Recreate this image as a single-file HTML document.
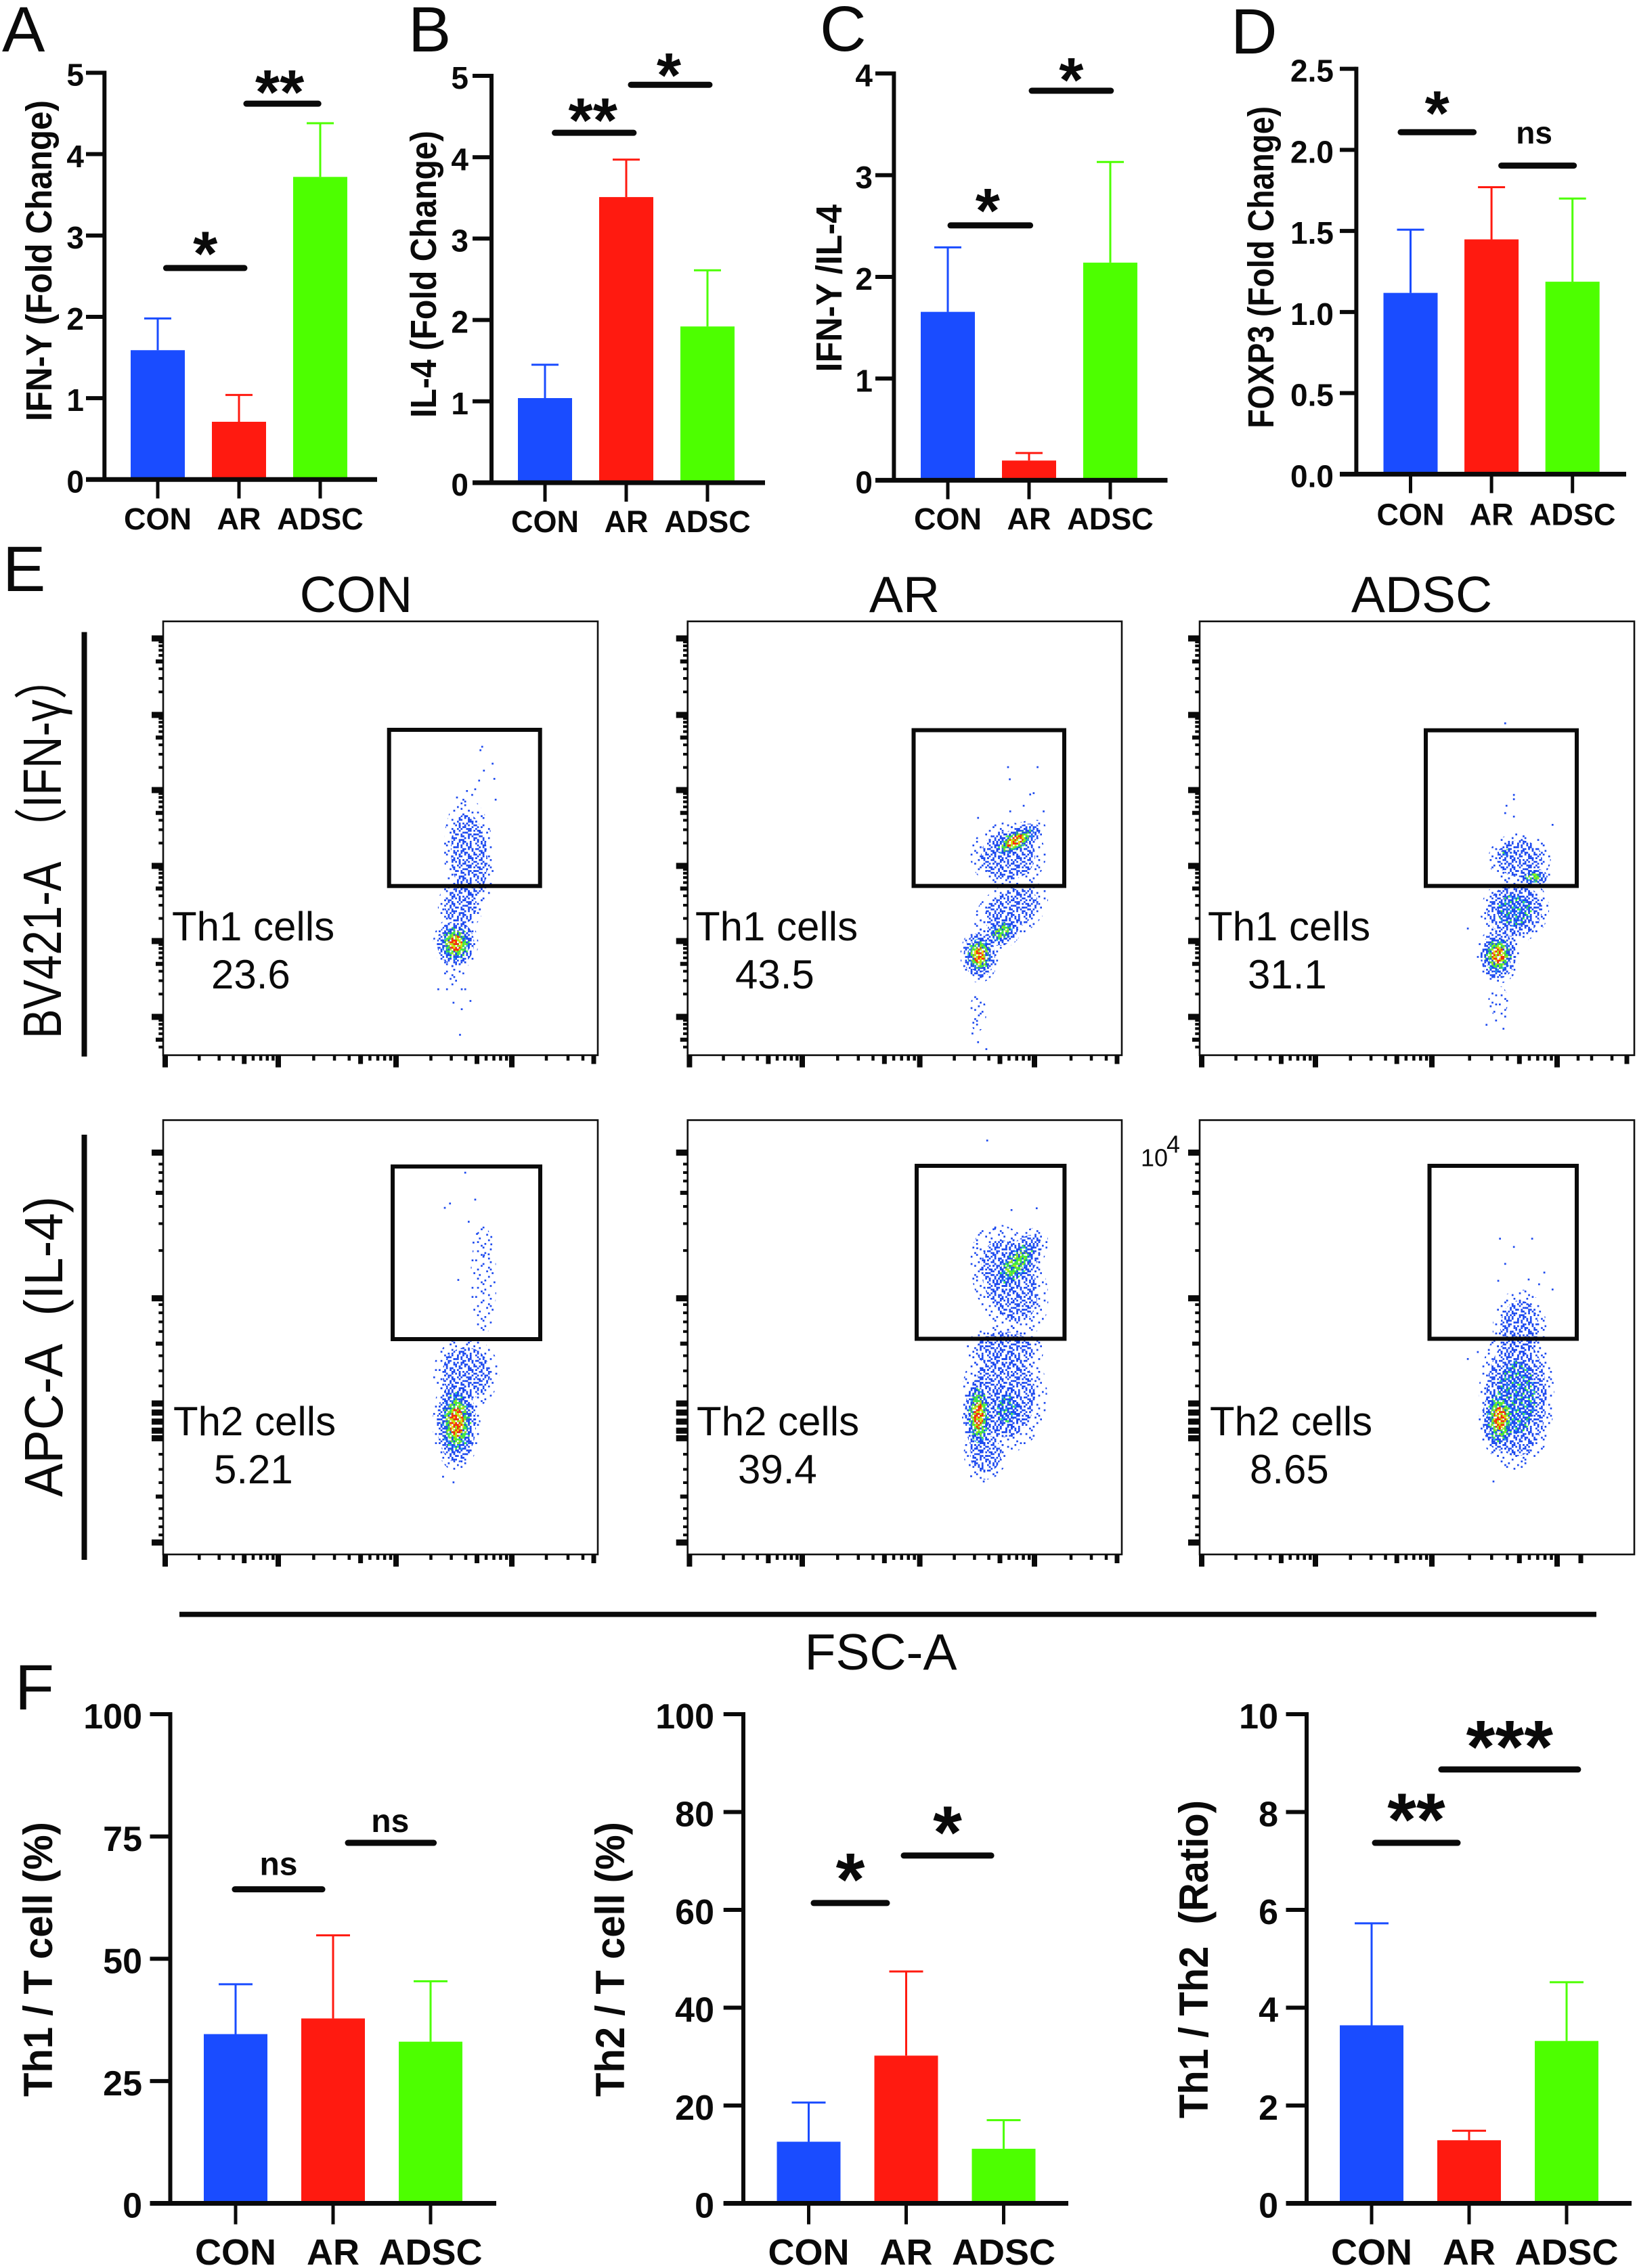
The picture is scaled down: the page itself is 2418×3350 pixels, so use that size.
<!DOCTYPE html>
<html lang="en">
<head>
<meta charset="utf-8">
<title>Cytokine and flow cytometry figure</title>
<style>
html,body{margin:0;padding:0;background:#fff}
svg{display:block}
text{font-family:"Liberation Sans","Noto Sans CJK SC",sans-serif;fill:#0a0a0a}
.letter{font-size:95px}
.col{font-size:75px;text-anchor:middle}
</style>
</head>
<body>
<svg id="fig" xmlns="http://www.w3.org/2000/svg" width="2418" height="3350" viewBox="0 0 2418 3350">
<defs id="defs"></defs>
<rect width="2418" height="3350" fill="#fff"/>
<text class="letter" x="3" y="76">A</text>
<text class="letter" x="603" y="76">B</text>
<text class="letter" x="1211" y="75">C</text>
<text class="letter" x="1818" y="79">D</text>
<text class="letter" x="4" y="873">E</text>
<text class="letter" x="22" y="2525">F</text>
<text class="col" x="526" y="904">CON</text>
<text class="col" x="1336" y="904">AR</text>
<text class="col" x="2100" y="904">ADSC</text>
<rect x="120.5" y="933.6" width="8" height="627" fill="#0a0a0a"/>
<rect x="120.5" y="1676" width="8" height="628" fill="#0a0a0a"/>
<text transform="translate(90,1251) rotate(-90)" text-anchor="middle" font-size="80" textLength="566" lengthAdjust="spacingAndGlyphs">BV421-A （IFN-γ）</text>
<text transform="translate(92,1989) rotate(-90)" text-anchor="middle" font-size="80" textLength="444" lengthAdjust="spacingAndGlyphs">APC-A&#160;&#160;(IL-4)</text>
<rect x="265" y="2380.7" width="2093" height="7.7" fill="#0a0a0a"/>
<text x="1301" y="2466" text-anchor="middle" font-size="75">FSC-A</text>
<text x="1685" y="1722.6" font-size="36">10</text>
<text x="1723" y="1702.5" font-size="36">4</text>
<g id="flow"></g>
<g id="bars"></g>
</svg>
<script>
/* ---------- bar chart data ---------- */
const categories = ['CON', 'AR', 'ADSC'];
const ifnMeans = [1.59, 0.71, 3.72];
const ifnTops = [1.98, 1.04, 4.38];
const il4Means = [1.04, 3.51, 1.92];
const il4Tops = [1.45, 3.97, 2.61];
const ratioMeans = [1.656, 0.194, 2.14];
const ratioTops = [2.29, 0.268, 3.13];
const foxp3Means = [1.118, 1.448, 1.187];
const foxp3Tops = [1.508, 1.77, 1.70];
const th1Means = [34.6, 37.8, 33.05];
const th1Tops = [44.8, 54.8, 45.4];
const th2Means = [12.6, 30.2, 11.16];
const th2Tops = [20.6, 47.4, 17.0];
const th1th2Means = [3.64, 1.29, 3.32];
const th1th2Tops = [5.725, 1.484, 4.52];
const ticksFive = [0, 1, 2, 3, 4, 5];
const ticksFour = [0, 1, 2, 3, 4];
const ticksFoxp3 = [0, 0.5, 1, 1.5, 2, 2.5];
const tickLabelsFoxp3 = ['0.0', '0.5', '1.0', '1.5', '2.0', '2.5'];
const ticksTh1 = [0, 25, 50, 75, 100];
const ticksTh2 = [0, 20, 40, 60, 80, 100];
const ticksRatio = [0, 2, 4, 6, 8, 10];
/* significance: from, to (category index), level (y value), label */
const sigIfn = [[0.07, 1.1, 2.60, '*'], [1.058, 2.01, 4.62, '**']];
const sigIl4 = [[0.088, 1.124, 4.30, '**'], [1.025, 2.058, 4.89, '*']];
const sigRatio = [[0, 1.047, 2.506, '*'], [1, 2.04, 3.83, '*']];
const sigFoxp3 = [[-0.155, 0.812, 2.109, '*'], [1.088, 2.05, 1.903, 'ns']];
const sigTh1 = [[-0.035, 0.917, 64.2, 'ns'], [1.125, 2.06, 73.7, 'ns']];
const sigTh2 = [[0.024, 0.83, 61.4, '*'], [0.948, 1.9, 71.1, '*']];
const sigTh1th2 = [[0.007, 0.91, 7.37, '**'], [0.687, 2.145, 8.87, '***']];

/* ---------- flow density data: [x channel, y channel, x radius, y radius, tilt, peak level] ---------- */
const cloudsTh1Con = [[673,258,52,62,0,5],[704,460,58,135,-4,2],[684,345,52,60,0,2],[668,185,25,28,0,1]];
const cloudsTh1Ar = [[738,460,87,77,0,2],[755,494,78,34,-30,5],[745,334,92,60,-30,2],[724,285,48,38,-30,4],[672,230,44,63,0,5],[668,97,20,42,0,1]];
const cloudsTh1Adsc = [[736,453,72,59,0,2],[706,467,26,16,0,3],[770,411,38,24,0,4],[725,334,80,75,-25,3],[687,230,50,65,0,5],[687,125,23,35,0,1]];
const cloudsTh2Con = [[675,304,55,113,0,5],[697,417,76,83,0,2],[737,630,30,125,0,1]];
const cloudsTh2Ar = [[741,630,82,135,-20,2],[757,669,100,48,-51,4],[730,470,90,60,0,2],[730,367,98,135,0,2],[670,320,38,103,0,5],[735,335,45,65,0,3],[686,232,50,60,0,2]];
const cloudsTh2Adsc = [[691,313,49,90,0,5],[729,362,87,170,0,3],[736,520,62,90,0,2]];
/* isolated events: [x channel, y channel] */
const eventsTh1Con = [[734,711],[730,703],[758,672],[738,656],[727,633],[762,637],[718,613],[699,609],[711,600],[765,589],[676,594],[633,152],[653,152],[687,152],[695,152],[707,125],[668,121],[687,106],[683,47]];
const eventsTh1Ar = [[738,664],[806,664],[742,636],[797,604],[789,601],[669,547],[774,575],[820,562],[743,562],[656,50],[669,30],[688,14]];
const eventsTh1Adsc = [[703,765],[723,600],[723,590],[706,575],[703,558],[723,550],[812,531],[617,292],[660,70],[682,80],[699,61],[703,89]];
const eventsTh2Con = [[695,879],[718,817],[660,808],[648,798],[703,766],[722,738],[714,718],[755,731],[755,714],[738,689],[749,691],[679,632],[644,179],[668,166]];
const eventsTh2Ar = [[690,953],[746,793],[804,797],[708,750],[667,705],[653,180],[682,168]];
const eventsTh2Adsc = [[691,727],[765,727],[723,708],[703,669],[687,630],[793,649],[757,633],[781,622],[812,610],[617,450],[640,466],[676,168]];

/* ---------- helpers ---------- */
const SVGNS = 'http://www.w3.org/2000/svg';
function mk(tag, attrs, parent, name, live) {
  const el = document.createElementNS(SVGNS, tag);
  for (const k in attrs) el.setAttribute(k, attrs[k]);
  
  
  parent.appendChild(el);
  return el;
}
function label(str, attrs, parent, name) {
  const t = mk('text', attrs, parent, name);
  t.textContent = str;
  return t;
}
function slug(s) { return String(s).toLowerCase().replace(/[^a-z0-9]+/g, '-'); }

/* ---------- bar charts ---------- */
const BLUE = '#1a4cff', RED = '#ff1a10', GREEN = '#4dff00', INK = '#0a0a0a';
const barColors = [BLUE, RED, GREEN];

function drawBarChart(c) {
  const root = document.getElementById('bars');
  const g = mk('g', {}, root, 'chart-' + c.id);
  const y = v => c.yBase - (v / c.max) * (c.yBase - c.yTop);
  const x = i => c.c0 + i * c.step;
  categories.forEach((cat, i) => {
    const cat_ = slug(cat);
    mk('rect', {x: x(i) - c.barW / 2, y: y(c.means[i]), width: c.barW, height: c.yBase - y(c.means[i]), fill: barColors[i]}, g, 'bar-' + cat_);
    mk('line', {x1: x(i), x2: x(i), y1: y(c.means[i]), y2: y(c.tops[i]), stroke: barColors[i], 'stroke-width': 3}, g, 'error-bar-' + cat_);
    mk('line', {x1: x(i) - c.cap, x2: x(i) + c.cap, y1: y(c.tops[i]), y2: y(c.tops[i]), stroke: barColors[i], 'stroke-width': 3}, g, 'error-cap-' + cat_);
    mk('line', {x1: x(i), x2: x(i), y1: c.yBase, y2: c.yBase + c.tickDown, stroke: INK, 'stroke-width': 5}, g, 'x-tick-' + cat_);
    label(cat, {x: x(i), y: c.xLabelY, 'text-anchor': 'middle', 'font-size': c.xFont, 'font-weight': 700}, g, 'x-label-' + cat_);
  });
  mk('line', {x1: c.axisX, x2: c.axisX, y1: c.yTop - 3, y2: c.yBase + 3, stroke: INK, 'stroke-width': 6}, g, 'y-axis');
  mk('line', {x1: c.tickLeft, x2: c.xRight, y1: c.yBase, y2: c.yBase, stroke: INK, 'stroke-width': 7}, g, 'x-axis');
  c.ticks.forEach((t, i) => {
    const str = c.tickLabels ? c.tickLabels[i] : String(t);
    mk('line', {x1: c.tickLeft, x2: c.axisX, y1: y(t), y2: y(t), stroke: INK, 'stroke-width': 6}, g, 'y-tick-' + slug(str));
    label(str, {x: c.labelRight, y: y(t) + 3 + 0.35 * c.yFont, 'text-anchor': 'end', 'font-size': c.yFont, 'font-weight': 700}, g, 'y-label-' + slug(str));
  });
  label(c.title, {transform: 'translate(' + c.titleX + ',' + c.titleY + ') rotate(-90)', 'text-anchor': 'middle', 'font-size': c.titleFont, 'font-weight': 700, textLength: c.titleLen, lengthAdjust: 'spacingAndGlyphs'}, g, 'y-axis-title');
  c.sig.forEach((s, i) => {
    const yy = y(s[2]);
    mk('line', {x1: x(s[0]) + 4, x2: x(s[1]) - 4, y1: yy, y2: yy, stroke: INK, 'stroke-width': 9, 'stroke-linecap': 'round'}, g, 'significance-bar-' + (i + 1));
    const off = c.sigOff[i];
    const mid = (x(s[0]) + x(s[1])) / 2 + off[1];
    if (s[3] === 'ns') {
      label('ns', {x: mid, y: yy - off[0], 'text-anchor': 'middle', 'font-size': c.nsFont, 'font-weight': 700}, g, 'significance-label-' + (i + 1));
    } else {
      label(s[3], {x: mid, y: yy - off[0] + 0.49 * c.starFont, 'text-anchor': 'middle', 'font-size': c.starFont, 'font-weight': 700}, g, 'significance-label-' + (i + 1));
    }
  });
}

const topCommon = {step: 120, barW: 80, cap: 20, tickDown: 28, xFont: 45, yFont: 46, titleFont: 54, starFont: 93, nsFont: 46};
const botCommon = {step: 144, barW: 94, cap: 25, tickDown: 31, xFont: 54, yFont: 52, titleFont: 60, starFont: 110, nsFont: 48, yTop: 2532, yBase: 3254.5, xLabelY: 3345};

drawBarChart(Object.assign({}, topCommon, {id: 'ifn-gamma', axisX: 154.3, yTop: 107.5, yBase: 708.3, max: 5, ticks: ticksFive, tickLeft: 127, xRight: 557, labelRight: 124, xLabelY: 782, c0: 233, means: ifnMeans, tops: ifnTops, title: 'IFN-Y (Fold Change)', titleX: 76, titleY: 385, titleLen: 474, sig: sigIfn, sigOff: [[35, 0], [30.5, -4]]}));
drawBarChart(Object.assign({}, topCommon, {id: 'il-4', axisX: 726, yTop: 112, yBase: 713, max: 5, ticks: ticksFive, tickLeft: 698, xRight: 1130, labelRight: 692, xLabelY: 786, c0: 805, means: il4Means, tops: il4Tops, title: 'IL-4 (Fold Change)', titleX: 644, titleY: 405, titleLen: 424, sig: sigIl4, sigOff: [[32, -2], [28, -2]]}));
drawBarChart(Object.assign({}, topCommon, {id: 'ifn-il4-ratio', axisX: 1320.4, yTop: 108.5, yBase: 709.4, max: 4, ticks: ticksFour, tickLeft: 1293, xRight: 1724.5, labelRight: 1289, xLabelY: 782, c0: 1400, means: ratioMeans, tops: ratioTops, title: 'IFN-Y /IL-4', titleX: 1243, titleY: 425.7, titleLen: 247.5, sig: sigRatio, sigOff: [[35.5, -4], [29.5, 0]]}));
drawBarChart(Object.assign({}, topCommon, {id: 'foxp3', axisX: 2003.4, yTop: 101.6, yBase: 700.4, max: 2.5, ticks: ticksFoxp3, tickLabels: tickLabelsFoxp3, step: 119.6, tickLeft: 1979, xRight: 2402, labelRight: 1970, xLabelY: 775.5, c0: 2083.5, means: foxp3Means, tops: foxp3Tops, title: 'FOXP3 (Fold Change)', titleX: 1881, titleY: 394.8, titleLen: 475.6, sig: sigFoxp3, sigOff: [[42, 0], [32.6, -5]]}));
drawBarChart(Object.assign({}, botCommon, {id: 'th1-t-cell', axisX: 251.5, max: 100, ticks: ticksTh1, tickLeft: 221.5, xRight: 733, labelRight: 210, c0: 348, means: th1Means, tops: th1Tops, title: 'Th1 / T cell (%)', titleX: 77, titleY: 2894, titleLen: 406, sig: sigTh1, sigOff: [[21, 0], [16, -1]]}));
drawBarChart(Object.assign({}, botCommon, {id: 'th2-t-cell', axisX: 1098, max: 100, ticks: ticksTh2, tickLeft: 1068.7, xRight: 1578, labelRight: 1055, c0: 1194.5, means: th2Means, tops: th2Tops, title: 'Th2 / T cell (%)', titleX: 922, titleY: 2894, titleLen: 406, sig: sigTh2, sigOff: [[51, 0], [50, 0]]}));
drawBarChart(Object.assign({}, botCommon, {id: 'th1-th2-ratio', axisX: 1930, max: 10, ticks: ticksRatio, tickLeft: 1899.5, xRight: 2410, labelRight: 1888, c0: 2026, means: th1th2Means, tops: th1th2Tops, title: 'Th1 / Th2\u00a0\u00a0(Ratio)', titleX: 1784, titleY: 2894, titleLen: 470, sig: sigTh1th2, sigOff: [[50.5, 0], [49.5, 0]]}));

/* ---------- flow plots ---------- */
/* texture threshold tile for the density bands */
const tile = [
"73915082647193058264","18406273950482716395","52970318462705938146","96143857021638470259",
"30785219648951263708","64218097351420785936","89502746139637024581","17360985427058193642",
"42891630578316940275","05627419283794561308","78134562096243807916","29450873615089172463",
"61708324957160348529","34967150842925613087","80253691074386790142","56129407368471205896",
"13874925601937452360","97036182495520863714","25481760319648091573","40692538176302574981"];
const CELL = 2.7;
const FBLUE = '#1c49ef', FGREEN = '#3ff03a', FLIME = '#a6f010', FYEL = '#f2e400', FRED = '#fb2a08', FCYAN = '#23a6ef';
function levelColor(level, d) {
  if (level === 1) return d < 1 ? FBLUE : null;
  if (level === 2) return d < 4 ? FBLUE : null;
  if (level === 3) return d < 5 ? FBLUE : (d === 5 ? FGREEN : (d === 6 ? FCYAN : null));
  if (level === 4) return d < 3 ? FGREEN : (d < 5 ? FLIME : (d < 7 ? FBLUE : (d < 8 ? FGREEN : null)));
  return d < 2 ? FRED : (d < 4 ? FYEL : (d < 6 ? FLIME : (d < 8 ? FRED : null)));
}
const defs = document.getElementById('defs');
for (let level = 1; level <= 5; level++) {
  const p = mk('pattern', {id: 'density' + level, patternUnits: 'userSpaceOnUse', width: CELL * 20, height: CELL * 20}, defs, 'density-texture-' + level);
  tile.forEach((row, r) => {
    for (let q = 0; q < row.length; q++) {
      const col = levelColor(level, +row[q]);
      if (col) {
        const cell = document.createElementNS(SVGNS, 'rect');
        cell.setAttribute('x', q * CELL);
        cell.setAttribute('y', r * CELL);
        cell.setAttribute('width', CELL);
        cell.setAttribute('height', CELL);
        cell.setAttribute('fill', col);
        p.appendChild(cell);
      }
    }
  });
}
/* radius share of each density band, indexed by a lobe's peak level */
const bandShares = {1: [1], 2: [1, 0.72], 3: [1, 0.8, 0.5], 4: [1, 0.8, 0.55, 0.35], 5: [1, 0.82, 0.62, 0.46, 0.3]};

const rowOneMajors = [943, 1056, 1167, 1279, 1390, 1502];
const rowTwoTicks = [[140,2],[178,0],[206,0],[234,0],[273,1],[318,0],[375,0],[464,0],[622,2],[643,0],[670,0],[700,0],[732,0],[772,1],[812,0],[862,0],[912,0],[970,2],[1000,2],[1030,2],[1060,2],[1085,2],[1138,0],[1188,0],[1232,0],[1278,1],[1318,0],[1350,0],[1378,0],[1405,0],[1430,2]];
const tickLen = [6.7, 11, 17], tickW = [4, 6, 9];
const xLen = [8, 13, 18], xW = [4.5, 7, 8];

function drawFlow(f) {
  const root = document.getElementById('flow');
  const g = mk('g', {}, root, 'flow-plot-' + f.id);
  const W = f.right - f.left, H = f.bottom - f.top;
  const sx = ch => f.left + ch / 1000 * W;
  const sy = ch => f.bottom - ch / 1000 * H;
  mk('rect', {x: f.left, y: f.top, width: W, height: H, fill: '#fff', stroke: '#111', 'stroke-width': 2.6}, g, 'plot-frame');
  /* density bands */
  for (let level = 1; level <= 5; level++) {
    f.clouds.forEach(c => {
      if (c[5] < level) return;
      const s = bandShares[c[5]][level - 1];
      const rx = c[2] / 1000 * W * s, ry = c[3] / 1000 * H * s;
      const a = c[4] * Math.PI / 180;
      const cx = sx(c[0]), cy = sy(c[1]);
      const dx = rx * Math.cos(a), dy = rx * Math.sin(a);
      const d = 'M' + (cx - dx) + ' ' + (cy - dy) + 'A' + rx + ' ' + ry + ' ' + c[4] + ' 1 0 ' + (cx + dx) + ' ' + (cy + dy) + 'A' + rx + ' ' + ry + ' ' + c[4] + ' 1 0 ' + (cx - dx) + ' ' + (cy - dy) + 'Z';
      mk('path', {d: d, fill: 'url(#density' + level + ')'}, g, 'density-band-' + level);
    });
  }
  f.events.forEach(e => {
    mk('rect', {x: sx(e[0]) - 1.35, y: sy(e[1]) - 1.35, width: 2.7, height: 2.7, fill: FBLUE}, g, 'event-dot');
  });
  /* gate */
  mk('rect', {x: f.gate[0], y: f.gate[1], width: f.gate[2] - f.gate[0], height: f.gate[3] - f.gate[1], fill: 'none', stroke: '#0a0a0a', 'stroke-width': 6}, g, 'gate-' + slug(f.cell), true);
  /* y ticks */
  const yTick = (py, kind) => {
    mk('rect', {x: f.left - tickLen[kind], y: py - tickW[kind] / 2, width: tickLen[kind], height: tickW[kind], fill: INK}, g, 'y-tick');
  };
  if (f.row === 1) {
    rowOneMajors.forEach((m, i) => {
      yTick(m, 2);
      const sp = i < rowOneMajors.length - 1 ? rowOneMajors[i + 1] - m : 112;
      for (let k = 9; k >= 2; k--) {
        const py = m + sp * (1 - Math.log10(k));
        if (py < f.bottom - 4) yTick(py, k === 5 ? 1 : 0);
      }
    });
  } else {
    rowTwoTicks.forEach(t => yTick(1640 + t[0] / 2.24, t[1]));
  }
  /* x ticks */
  const xTick = (px, kind) => {
    mk('rect', {x: px - xW[kind] / 2, y: f.bottom, width: xW[kind], height: xLen[kind], fill: INK}, g, 'x-tick');
  };
  f.xMajors.forEach((m, i) => {
    xTick(m, 2);
    if (i < f.xMajors.length - 1) {
      const sp = f.xMajors[i + 1] - m;
      for (let k = 2; k <= 9; k++) xTick(m + sp * Math.log10(k), k === 5 ? 1 : 0);
    }
  });
  f.xTail.forEach((px, i) => xTick(px, i === f.xTail.length - 1 ? 1 : 0));
  label(f.cell, {x: f.labelX, y: f.labelY, 'font-size': 60}, g, 'population-label');
  label(f.value, {x: f.valueX, y: f.labelY + 71, 'font-size': 60}, g, 'population-value');
}

const col1Majors = [244, 411, 585, 756], col2Majors = [1018.4, 1185, 1358.6, 1528], col3Majors = [1775, 1943, 2115, 2300];
const col1Tail = [807, 839, 861, 877], col2Tail = [1582, 1612, 1634, 1650];
const rowOneBox = {row: 1, top: 917.8, bottom: 1558.6};
const rowTwoBox = {row: 2, top: 1654.5, bottom: 2296};
drawFlow(Object.assign({}, rowOneBox, {id: 'th1-con', left: 241, right: 883, clouds: cloudsTh1Con, events: eventsTh1Con, gate: [574.7, 1078, 797.7, 1308.7], xMajors: col1Majors, xTail: col1Tail, cell: 'Th1 cells', value: '23.6', labelX: 254, labelY: 1389, valueX: 312}));
drawFlow(Object.assign({}, rowOneBox, {id: 'th1-ar', left: 1015.7, right: 1657, clouds: cloudsTh1Ar, events: eventsTh1Ar, gate: [1349.5, 1078.5, 1572, 1308.6], xMajors: col2Majors, xTail: col2Tail, cell: 'Th1 cells', value: '43.5', labelX: 1027, labelY: 1389, valueX: 1086}));
drawFlow(Object.assign({}, rowOneBox, {id: 'th1-adsc', left: 1772, right: 2414, clouds: cloudsTh1Adsc, events: eventsTh1Adsc, gate: [2106, 1078.7, 2329, 1308.6], xMajors: col3Majors, xTail: [2331, 2351, 2381, 2403], cell: 'Th1 cells', value: '31.1', labelX: 1784, labelY: 1389, valueX: 1843}));
drawFlow(Object.assign({}, rowTwoBox, {id: 'th2-con', left: 241, right: 883, clouds: cloudsTh2Con, events: eventsTh2Con, gate: [580, 1723, 798, 1978], xMajors: col1Majors, xTail: col1Tail, cell: 'Th2 cells', value: '5.21', labelX: 256, labelY: 2120, valueX: 316}));
drawFlow(Object.assign({}, rowTwoBox, {id: 'th2-ar', left: 1015.7, right: 1657, clouds: cloudsTh2Ar, events: eventsTh2Ar, gate: [1354, 1722, 1572.4, 1977.5], xMajors: col2Majors, xTail: col2Tail, cell: 'Th2 cells', value: '39.4', labelX: 1029, labelY: 2120, valueX: 1090}));
drawFlow(Object.assign({}, rowTwoBox, {id: 'th2-adsc', left: 1772, right: 2414, clouds: cloudsTh2Adsc, events: eventsTh2Adsc, gate: [2111.5, 1722, 2329, 1977.5], xMajors: col3Majors, xTail: [2335], cell: 'Th2 cells', value: '8.65', labelX: 1787, labelY: 2120, valueX: 1846}));
</script>
</body>
</html>
